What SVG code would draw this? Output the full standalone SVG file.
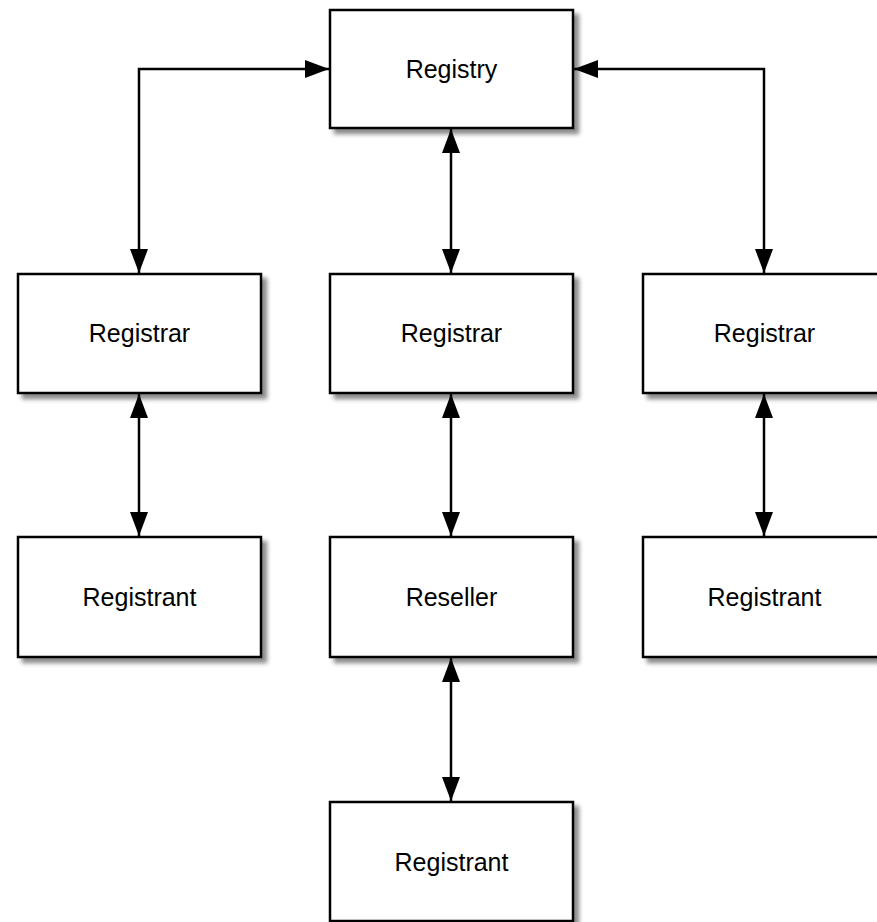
<svg xmlns="http://www.w3.org/2000/svg" width="877" height="922" viewBox="0 0 877 922">
<style>
.box{fill:#fff;stroke:#000;stroke-width:2.5;filter:url(#sh)}
.lbl{font-family:"Liberation Sans",Arial,sans-serif;font-size:25px;fill:#000;text-anchor:middle}
.con{fill:none;stroke:#000;stroke-width:2.5;marker-start:url(#ah);marker-end:url(#ah)}
</style>
<defs>
<filter id="sh" x="-10%" y="-10%" width="130%" height="130%">
<feDropShadow dx="5" dy="5" stdDeviation="2" flood-color="#000" flood-opacity="0.45"/>
</filter>
<marker id="ah" markerUnits="userSpaceOnUse" markerWidth="26" markerHeight="20" refX="24" refY="9" orient="auto-start-reverse">
<path d="M0,0 L24,9 L0,18 Z" fill="#000"/>
</marker>
</defs>
<rect width="877" height="922" fill="#fff"/>
<g id="connectors">
<path class="con" d="M329,69 H139 V273"/>
<path class="con" d="M574,69 H764 V273"/>
<path class="con" d="M451,129 V273"/>
<path class="con" d="M139,394 V536"/>
<path class="con" d="M451,394 V536"/>
<path class="con" d="M764,394 V536"/>
<path class="con" d="M451,658 V801"/>
</g>
<g id="registry"><rect class="box" x="330" y="10" width="243" height="118"/><text class="lbl" x="451.5" y="78">Registry</text></g>
<g id="registrar1"><rect class="box" x="18" y="274" width="243" height="119"/><text class="lbl" x="139.5" y="342">Registrar</text></g>
<g id="registrar2"><rect class="box" x="330" y="274" width="243" height="119"/><text class="lbl" x="451.5" y="342">Registrar</text></g>
<g id="registrar3"><rect class="box" x="643" y="274" width="243" height="119"/><text class="lbl" x="764.5" y="342">Registrar</text></g>
<g id="registrant1"><rect class="box" x="18" y="537" width="243" height="120"/><text class="lbl" x="139.5" y="606">Registrant</text></g>
<g id="reseller"><rect class="box" x="330" y="537" width="243" height="120"/><text class="lbl" x="451.5" y="606">Reseller</text></g>
<g id="registrant3"><rect class="box" x="643" y="537" width="243" height="120"/><text class="lbl" x="764.5" y="606">Registrant</text></g>
<g id="registrant2"><rect class="box" x="330" y="802" width="243" height="119"/><text class="lbl" x="451.5" y="871">Registrant</text></g>
</svg>
